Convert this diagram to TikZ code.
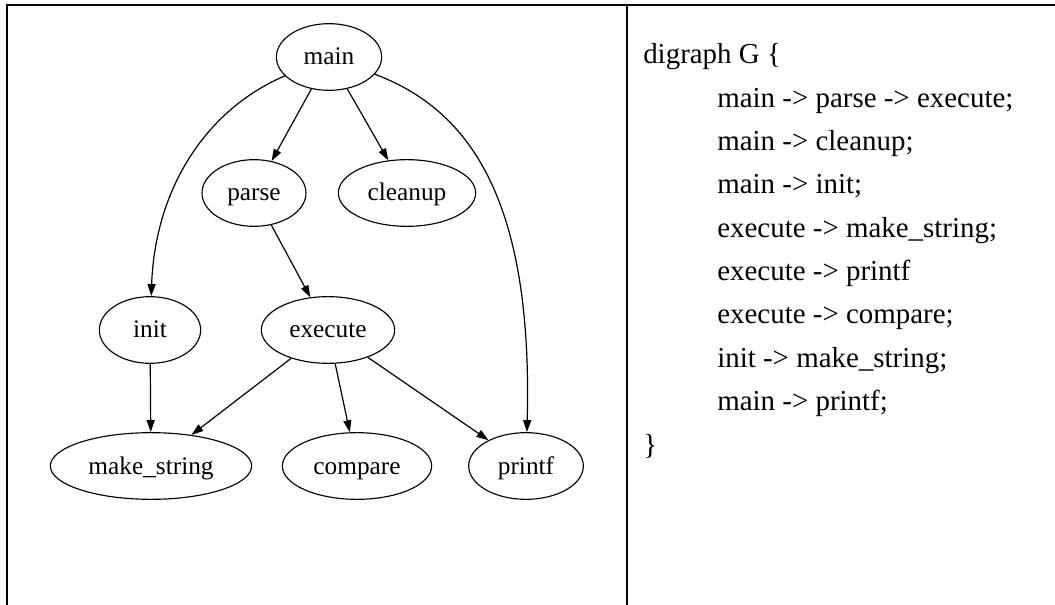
\documentclass[tikz,border=0pt]{standalone}
\usepackage{fontspec}
\setmainfont{Liberation Serif}
\usetikzlibrary{positioning,arrows.meta,shapes.geometric}

\begin{document}
\begin{tikzpicture}[x=0.75pt, y=-0.75pt,
  fn/.style={draw, ellipse, line width=0.85pt, inner sep=0pt, minimum height=50pt,
    text height=14pt, text depth=2pt, font=\fontsize{19}{22}\selectfont},
  arr/.style={line width=0.9pt, -{Triangle[length=9pt,width=6pt]}},
  code/.style={anchor=base west, inner sep=0pt, font=\fontsize{21.7}{26}\selectfont},
  frame/.style={line width=1.5pt}]
\useasboundingbox (0,0) rectangle (1055,605);
% table lines
\draw[frame] (7,605) -- (7,5) -- (1055,5);
\draw[frame] (627,5) -- (627,605);
% graph
\node[fn, minimum width=79pt] (main) at (329,57) {main};
\node[fn, minimum width=78pt] (parse) at (254,193) {parse};
\node[fn, minimum width=103pt] (cleanup) at (407,193) {cleanup};
\node[fn, minimum width=76pt] (init) at (150,330) {init};
\node[fn, minimum width=100pt] (execute) at (328,330) {execute};
\node[fn, minimum width=151pt] (mkstr) at (151,466) {make\_string};
\node[fn, minimum width=112pt] (compare) at (357,466) {compare};
\node[fn, minimum width=86pt] (printf) at (526,466) {printf};
\draw[arr] (main) -- (parse);
\draw[arr] (main) -- (cleanup);
\draw[arr] (main) .. controls (205,110) and (155,190) .. (init);
\draw[arr] (main) .. controls (470,110) and (533,200) .. (printf);
\draw[arr] (parse) -- (execute);
\draw[arr] (execute) -- (mkstr);
\draw[arr] (execute) -- (compare);
\draw[arr] (execute) -- (printf);
\draw[arr] (init) -- (mkstr);
% source text
\node[code] (l0) at (643,64) {digraph G \{};
\node[code] (l1) at (717,107.3) {main -> parse -> execute;};
\node[code] (l2) at (717,150.7) {main -> cleanup;};
\node[code] (l3) at (717,194) {main -> init;};
\node[code] (l4) at (717,237.3) {execute -> make\_string;};
\node[code] (l5) at (717,280.7) {execute -> printf};
\node[code] (l6) at (717,324) {execute -> compare;};
\node[code] (l7) at (717,367.3) {init -> make\_string;};
\node[code] (l8) at (717,410.7) {main -> printf;};
\node[code] (l9) at (643,454) {\}};
\end{tikzpicture}
\end{document}
